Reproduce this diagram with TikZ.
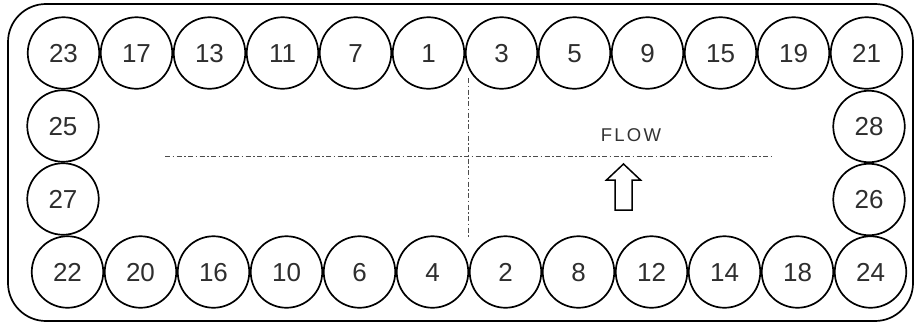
\documentclass[tikz,border=0pt]{standalone}
\usepackage{fontspec}
\setmainfont{Liberation Sans}
\newfontfamily\flowfont[LetterSpace=12]{Liberation Sans}
\begin{document}
\begin{tikzpicture}[x=1pt,y=-1pt,
  tube/.style={circle,draw=black,line width=1.7pt,minimum size=71.5pt,inner sep=0pt,
    text=black!82,font=\fontsize{26}{28}\selectfont,text height=18.6pt,text depth=0pt},
  centreline/.style={draw=black!70,line width=0.9pt,dash pattern=on 5pt off 2.5pt on 1.5pt off 2.5pt},
  shell/.style={draw=black,line width=1.7pt,rounded corners=38pt},
  flowarrow/.style={draw=black,line width=1.5pt,fill=white,line join=miter}]
\useasboundingbox (0,0) rectangle (917,324);
\draw[shell] (8,4) rectangle (913,321);
% top row
\foreach \lab [count=\i from 0] in {23,17,13,11,7,1,3,5,9,15,19,21}
  \node[tube] (t\lab) at ({63.5+73*\i},53) {\lab};
% bottom row
\foreach \lab [count=\i from 0] in {22,20,16,10,6,4,2,8,12,14,18,24}
  \node[tube] (b\lab) at ({67.5+73*\i},272) {\lab};
% side columns
\node[tube] (l25) at (63,126) {25};
\node[tube] (l27) at (63,199) {27};
\node[tube] (r28) at (869,126.5) {28};
\node[tube] (r26) at (869,199.5) {26};
% centre lines
\coordinate (hl) at (165,156);
\coordinate (hr) at (774,156);
\coordinate (vt) at (468,78);
\coordinate (vb) at (468,237);
\draw[centreline] (hl) -- (hr);
\draw[centreline] (vt) -- (vb);
% flow label and arrow
\node[text=black!80,font=\flowfont\fontsize{18.5}{20}\selectfont,inner sep=0pt] (flow) at (631,135.5) {FLOW};
\draw[flowarrow] (623.5,164) -- (640.5,180) -- (632,180) -- (632,210) -- (615,210) -- (615,180) -- (606.5,180) -- cycle;
\end{tikzpicture}
\end{document}
